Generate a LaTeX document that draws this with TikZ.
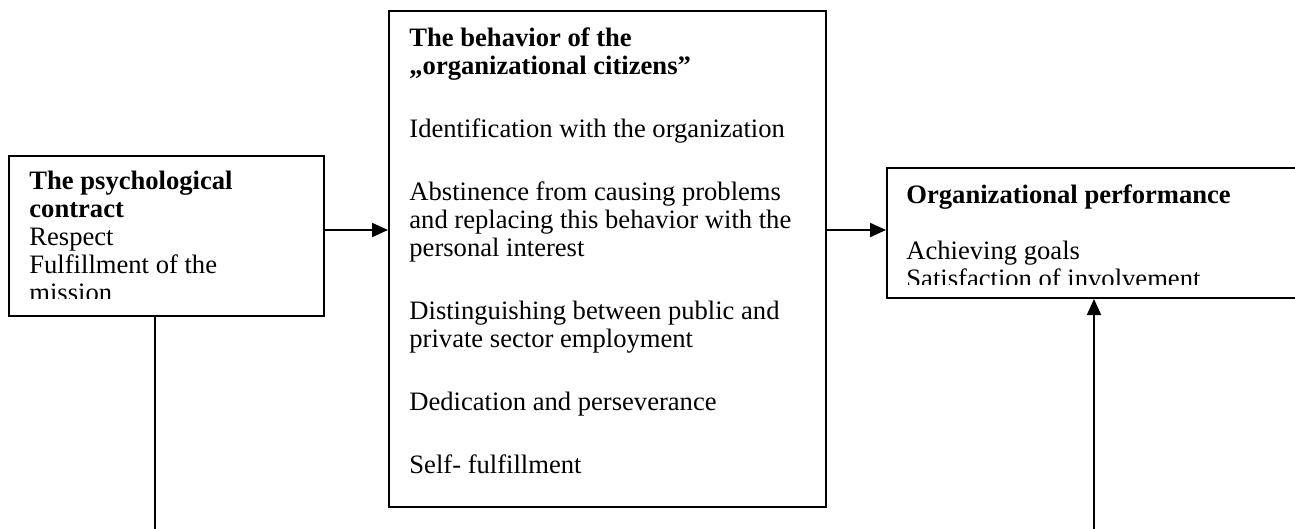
\documentclass[tikz,border=0pt]{standalone}
\usepackage{fontspec}
\setmainfont{Liberation Serif}
\usepackage{tikz}
\usetikzlibrary{arrows.meta, positioning, calc}

\begin{document}
\begin{tikzpicture}[
    x=0.5pt, y=-0.5pt,
    >={Triangle[length=8pt, width=7pt]},
    panel/.style={rectangle, draw=black, line width=1pt, inner sep=0pt,
                  anchor=north west},
    content/.style={align=left, anchor=north west, inner sep=0pt,
                    font=\fontsize{13.3}{14}\selectfont},
    link/.style={line width=1pt}
]
\useasboundingbox (0,0) rectangle (1295,529);
\node[panel, minimum width=157.5pt, minimum height=80pt] (psy) at (8,155) {};
\node[panel, minimum width=218.5pt, minimum height=248pt] (cit) at (388,10) {};
\node[panel, minimum width=210pt, minimum height=65pt] (perf) at (886,167) {};
% text is cut off at the inner edge of each frame
\begin{scope}
  \clip ([shift={(11,11)}]psy.north west) rectangle ([shift={(-11,-19)}]psy.south east);
  \node[content] (psytext) at (29,171) {\textbf{The psychological}\\
    \textbf{contract}\\ Respect\\ Fulfillment of the\\ mission};
\end{scope}
\begin{scope}
  \clip ([shift={(11,11)}]cit.north west) rectangle ([shift={(-11,-15)}]cit.south east);
  \node[content] (cittext) at (409,27) {\textbf{The behavior of the}\\
    \textbf{„organizational citizens”}\\[17.5pt]
    Identification with the organization\\[17.5pt]
    Abstinence from causing problems\\ and replacing this behavior with the\\
    personal interest\\[17.5pt]
    Distinguishing between public and\\ private sector employment\\[17.5pt]
    Dedication and perseverance\\[17.5pt]
    Self- fulfillment};
\end{scope}
\begin{scope}
  \clip ([shift={(11,11)}]perf.north west) rectangle ([shift={(-11,-15)}]perf.south east);
  \node[content] (perftext) at (906,184) {\textbf{Organizational performance}\\[14pt]
    Achieving goals\\ Satisfaction of involvement};
\end{scope}
\coordinate (lvl) at (0,230);
\coordinate (cutL) at (155,535);
\coordinate (cutR) at (1094,535);
\draw[link, ->] (psy.east |- lvl) -- (cit.west |- lvl);
\draw[link, ->] (cit.east |- lvl) -- (perf.west |- lvl);
\draw[link] (psy.south -| cutL) -- (cutL);
\draw[link, ->] (cutR) -- (perf.south -| cutR);
\end{tikzpicture}
\end{document}
